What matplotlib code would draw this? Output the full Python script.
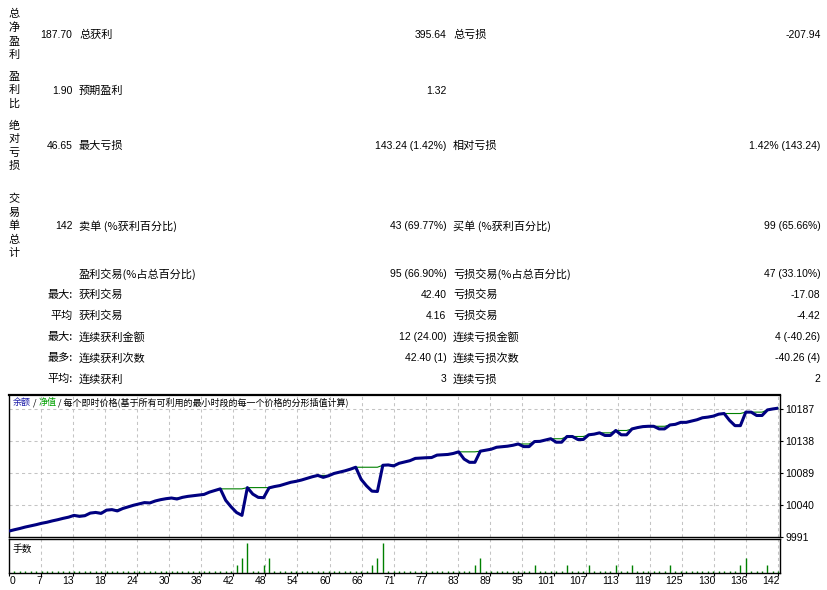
import matplotlib
matplotlib.use('Agg')
import matplotlib.pyplot as plt

# ---------------- data ----------------
balance = [
    10000.0, 10002.1, 10004.0, 10006.2, 10008.0, 10009.8, 10011.9, 10013.5, 10015.6, 10017.4,
    10019.5, 10021.3, 10024.0, 10022.5, 10023.5, 10027.5, 10028.5, 10027.0, 10032.0, 10032.8,
    10030.8, 10034.5, 10037.0, 10039.5, 10041.5, 10043.5, 10043.0, 10046.0, 10048.0, 10049.5,
    10050.5, 10049.0, 10051.5, 10053.0, 10054.0, 10055.0, 10056.0, 10059.5, 10062.0, 10064.5,
    10047.0, 10037.0, 10028.4, 10024.0, 10066.4, 10056.5, 10051.5, 10051.0, 10066.0, 10068.0,
    10069.5, 10072.0, 10074.5, 10076.0, 10078.0, 10080.5, 10083.0, 10085.0, 10082.0, 10084.5,
    10088.0, 10090.0, 10092.0, 10094.5, 10097.5, 10079.0, 10069.0, 10061.0, 10060.5, 10100.5,
    10101.0, 10099.5, 10103.5, 10105.5, 10107.5, 10111.0, 10111.5, 10112.0, 10112.3, 10116.0,
    10116.5, 10117.0, 10118.5, 10121.0, 10110.0, 10105.0, 10105.0, 10122.0, 10123.5, 10125.0,
    10128.0, 10128.8, 10129.6, 10131.0, 10133.0, 10129.0, 10129.0, 10136.7, 10137.0, 10139.0,
    10141.0, 10135.7, 10135.7, 10144.4, 10144.4, 10139.8, 10139.8, 10147.0, 10148.0, 10150.0,
    10146.0, 10146.0, 10153.6, 10147.0, 10147.0, 10156.0, 10158.0, 10159.5, 10160.0, 10160.0,
    10156.0, 10156.0, 10162.0, 10163.0, 10166.0, 10166.0, 10168.0, 10170.0, 10173.0, 10174.0,
    10175.5, 10178.5, 10179.5, 10169.0, 10161.0, 10161.0, 10181.6, 10181.6, 10176.5, 10176.5,
    10185.0, 10186.5, 10187.7,
]
equity = [
    10000.0, 10002.1, 10004.0, 10006.2, 10008.0, 10009.8, 10011.9, 10013.5, 10015.6, 10017.4,
    10019.5, 10021.3, 10024.0, 10024.0, 10024.0, 10027.5, 10028.5, 10028.5, 10032.0, 10032.8,
    10032.8, 10034.5, 10037.0, 10039.5, 10041.5, 10043.5, 10043.5, 10046.0, 10048.0, 10049.5,
    10050.5, 10050.5, 10051.5, 10053.0, 10054.0, 10055.0, 10056.0, 10059.5, 10062.0, 10064.5,
    10064.5, 10064.5, 10064.5, 10064.5, 10066.4, 10066.4, 10066.4, 10066.4, 10066.4, 10068.0,
    10069.5, 10072.0, 10074.5, 10076.0, 10078.0, 10080.5, 10083.0, 10085.0, 10085.0, 10085.0,
    10088.0, 10090.0, 10092.0, 10094.5, 10097.5, 10097.5, 10097.5, 10097.5, 10097.5, 10100.5,
    10101.0, 10101.0, 10103.5, 10105.5, 10107.5, 10111.0, 10111.5, 10112.0, 10112.3, 10116.0,
    10116.5, 10117.0, 10118.5, 10121.0, 10121.0, 10121.0, 10121.0, 10122.0, 10123.5, 10125.0,
    10128.0, 10128.8, 10129.6, 10131.0, 10133.0, 10133.0, 10133.0, 10136.7, 10137.0, 10139.0,
    10141.0, 10141.0, 10141.0, 10144.4, 10144.4, 10144.4, 10144.4, 10147.0, 10148.0, 10150.0,
    10150.0, 10150.0, 10153.6, 10153.6, 10153.6, 10156.0, 10158.0, 10159.5, 10160.0, 10160.0,
    10160.0, 10160.0, 10162.0, 10163.0, 10166.0, 10166.0, 10168.0, 10170.0, 10173.0, 10174.0,
    10175.5, 10178.5, 10179.5, 10179.5, 10179.5, 10179.5, 10181.6, 10181.6, 10181.6, 10181.6,
    10185.0, 10186.5, 10187.7,
]
# lots for trades 1..142
lots = [
    0.01, 0.01, 0.01, 0.01, 0.01, 0.01, 0.01, 0.01, 0.01, 0.01,
    0.01, 0.01, 0.01, 0.01, 0.01, 0.01, 0.01, 0.01, 0.01, 0.01,
    0.01, 0.01, 0.01, 0.01, 0.01, 0.01, 0.01, 0.01, 0.01, 0.01,
    0.01, 0.01, 0.01, 0.01, 0.01, 0.01, 0.01, 0.01, 0.01, 0.01,
    0.01, 0.04, 0.08, 0.16, 0.01, 0.01, 0.04, 0.08, 0.01, 0.01,
    0.01, 0.01, 0.01, 0.01, 0.01, 0.01, 0.01, 0.01, 0.01, 0.01,
    0.01, 0.01, 0.01, 0.01, 0.01, 0.01, 0.04, 0.08, 0.16, 0.01,
    0.01, 0.01, 0.01, 0.01, 0.01, 0.01, 0.01, 0.01, 0.01, 0.01,
    0.01, 0.01, 0.01, 0.01, 0.01, 0.04, 0.08, 0.01, 0.01, 0.01,
    0.01, 0.01, 0.01, 0.01, 0.01, 0.01, 0.04, 0.01, 0.01, 0.01,
    0.01, 0.01, 0.04, 0.01, 0.01, 0.01, 0.04, 0.01, 0.01, 0.01,
    0.01, 0.04, 0.01, 0.01, 0.04, 0.01, 0.01, 0.01, 0.01, 0.01,
    0.01, 0.04, 0.01, 0.01, 0.01, 0.01, 0.01, 0.01, 0.01, 0.01,
    0.01, 0.01, 0.01, 0.01, 0.04, 0.08, 0.01, 0.01, 0.01, 0.04,
    0.01, 0.01,
]
x_tick_labels = ['0', '7', '13', '18', '24', '30', '36', '42', '48', '54', '60', '66', '71',
                 '77', '83', '89', '95', '101', '107', '113', '119', '125', '130', '136', '142']
y_tick_values = [9991, 10040, 10089, 10138, 10187]

# summary table
side_titles = ['总净盈利', '盈利比', '绝对亏损', '交易单总计']
side_values = ['187.70', '1.90', '46.65', '142']
row_prefix = ['', '', '', '', '', '最大:', '平均', '最大:', '最多:', '平均:']
left_labels = ['总获利', '预期盈利', '最大亏损', '卖单 (%获利百分比)', '盈利交易(%占总百分比)',
               '获利交易', '获利交易', '连续获利金额', '连续获利次数', '连续获利']
left_values = ['395.64', '1.32', '143.24 (1.42%)', '43 (69.77%)', '95 (66.90%)',
               '42.40', '4.16', '12 (24.00)', '42.40 (1)', '3']
right_labels = ['总亏损', '', '相对亏损', '买单 (%获利百分比)', '亏损交易(%占总百分比)',
                '亏损交易', '亏损交易', '连续亏损金额', '连续亏损次数', '连续亏损']
right_values = ['-207.94', '', '1.42% (143.24)', '99 (65.66%)', '47 (33.10%)',
                '-17.08', '-4.42', '4 (-40.26)', '-40.26 (4)', '2']

# ---------------- layout ----------------
W, H = 827, 590
fig = plt.figure(figsize=(W / 100, H / 100), dpi=100)
fig.patch.set_facecolor('white')
CJK = ['Noto Sans CJK SC', 'DejaVu Sans']
NUM = ['Liberation Sans', 'Noto Sans CJK SC']


def fx(x):
    return x / W


def fy(y):
    return 1 - y / H


row_y = [34.5, 90.5, 146.0, 226.0, 274.0, 295.0, 316.0, 337.0, 358.0, 379.0]

for i, t in enumerate(side_titles):
    fig.text(fx(14), fy(row_y[i]), '\n'.join(t), ha='center', va='center',
             fontsize=8, family=CJK, linespacing=1.4)
    fig.text(fx(72.5), fy(row_y[i]), side_values[i], ha='right', va='center',
             fontsize=7.5, family=NUM)

for i in range(len(row_y)):
    y = fy(row_y[i])
    if row_prefix[i]:
        fig.text(fx(72.5), y, row_prefix[i], ha='right', va='center', fontsize=8, family=CJK)
    fig.text(fx(79), y, left_labels[i], ha='left', va='center', fontsize=8, family=CJK)
    fig.text(fx(446.5), y, left_values[i], ha='right', va='center', fontsize=7.5, family=NUM)
    if right_labels[i]:
        fig.text(fx(453), y, right_labels[i], ha='left', va='center', fontsize=8, family=CJK)
    if right_values[i]:
        fig.text(fx(820.5), y, right_values[i], ha='right', va='center', fontsize=7.5, family=NUM)

# chart geometry (pixels)
L, R = 9, 780.5
T_main, B_main = 394.5, 537
T_vol, B_vol = 539.3, 573
px_per_trade = 769.3 / 142
xmax = (R - L) / px_per_trade

ax = fig.add_axes([fx(L), fy(B_main), (R - L) / W, (B_main - T_main) / H])
axv = fig.add_axes([fx(L), fy(B_vol), (R - L) / W, (B_vol - T_vol) / H])

ymin = 9991
ymax = ymin + (B_main - T_main) / (32.1 / 49)

n_grid = len(x_tick_labels) - 1
grid_x = [k * 142 / n_grid for k in range(n_grid + 1)]
grid_col = '#c4c4c4'

for a in (ax, axv):
    a.set_xlim(0, xmax)
    for gx in grid_x[1:]:
        a.axvline(gx, color=grid_col, lw=0.75, ls=(0, (3, 3)), zorder=0)
    for s in a.spines.values():
        s.set_linewidth(1.0)
        s.set_color('black')

ax.set_ylim(ymin, ymax)
for gy in y_tick_values[1:]:
    ax.axhline(gy, color=grid_col, lw=0.75, ls=(0, (3, 3)), zorder=0)
ax.spines['top'].set_linewidth(1.6)

trades = list(range(len(balance)))
ax.plot(trades, equity, color='#008000', lw=0.8, zorder=2)
ax.plot(trades, balance, color='#000080', lw=2.2, zorder=3,
        solid_joinstyle='round', solid_capstyle='butt')

ax.set_xticks([])
ax.yaxis.tick_right()
ax.set_yticks(y_tick_values)
ax.set_yticklabels([str(v) for v in y_tick_values], fontsize=7.5, family=NUM)
ax.tick_params(axis='y', length=2, width=0.8, pad=1.5, direction='out')

trade_ids = list(range(1, len(lots) + 1))
axv.vlines(trade_ids, 0, lots, colors='#008000', lw=1.0, zorder=2)
axv.set_ylim(0, 0.16 * (B_vol - T_vol) / 30.3)
axv.set_yticks([])
axv.set_xticks(grid_x)
axv.set_xticklabels([''] * len(grid_x))
axv.tick_params(axis='x', length=2.5, width=0.8)

for k, lab in enumerate(x_tick_labels):
    if k == 0:
        fig.text(fx(L + 0.5), fy(581), lab, ha='left', va='center', fontsize=7.5, family=NUM)
    else:
        px = L + grid_x[k] * px_per_trade + 1
        fig.text(fx(px), fy(581), lab, ha='right', va='center', fontsize=7.5, family=NUM)

fig.text(fx(13), fy(548.5), '手数', ha='left', va='center', fontsize=7, family=CJK)

# chart title with coloured words
renderer = fig.canvas.get_renderer()
segments = [('余额', '#1c1ca8'), (' / ', 'black'), ('净值', '#00a000'),
            (' / 每个即时价格(基于所有可利用的最小时段的每一个价格的分形插值计算)', 'black')]
cx = 13
for s, c in segments:
    t = fig.text(fx(cx), fy(402.7), s, ha='left', va='center', fontsize=6.5,
                 family=CJK, color=c)
    cx += t.get_window_extent(renderer=renderer).width

fig.savefig('out.png', dpi=100)
